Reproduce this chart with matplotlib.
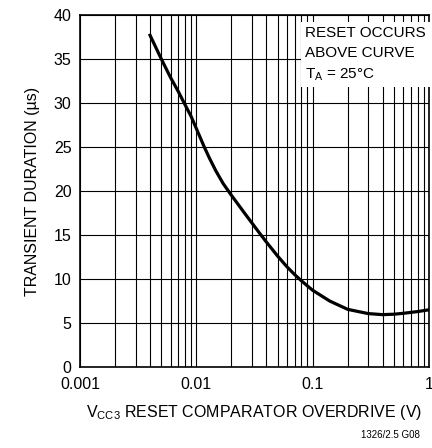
import matplotlib
matplotlib.use("Agg")
import matplotlib.pyplot as plt
from matplotlib.ticker import FixedLocator, NullFormatter

plt.rcParams['font.family'] = ['Liberation Sans', 'DejaVu Sans']
plt.rcParams['mathtext.default'] = 'regular'

# curve
overdrive = [0.004, 0.005, 0.006, 0.007, 0.008, 0.009, 0.01, 0.0117, 0.013, 0.0147,
             0.017, 0.0198, 0.0266, 0.035, 0.04, 0.05, 0.06, 0.07, 0.08, 0.09,
             0.1, 0.14, 0.2, 0.3, 0.4, 0.5, 0.6, 0.8, 1.0]
duration = [37.7, 35.0, 32.9, 31.3, 29.8, 28.5, 27.1, 25.0, 23.7, 22.3,
            20.85, 19.6, 17.3, 15.2, 14.2, 12.6, 11.4, 10.5, 9.8, 9.22,
            8.72, 7.5, 6.55, 6.07, 5.95, 6.0, 6.1, 6.3, 6.5]

x_ticks = [0.001, 0.01, 0.1, 1]
x_tick_labels = ['0.001', '0.01', '0.1', '1']
y_ticks = [0, 5, 10, 15, 20, 25, 30, 35, 40]

fig = plt.figure(figsize=(4.32, 4.48), dpi=100)
ax = fig.add_axes([80 / 432, 1 - 367 / 448, 349 / 432, 352 / 448])

ax.set_xscale('log')
ax.set_xlim(0.001, 1)
ax.set_ylim(0, 40)

minor = [m * d for d in (0.001, 0.01, 0.1) for m in range(2, 10)]
ax.xaxis.set_major_locator(FixedLocator(x_ticks))
ax.xaxis.set_minor_locator(FixedLocator(minor))
ax.xaxis.set_minor_formatter(NullFormatter())
ax.set_xticks(x_ticks)
ax.set_xticklabels(x_tick_labels)
ax.set_yticks(y_ticks)

ax.grid(True, which='both', axis='x', color='black', linewidth=0.8)
ax.grid(True, which='major', axis='y', color='black', linewidth=0.8)
ax.tick_params(which='both', length=0, labelsize=11.5, colors='black')
ax.tick_params(axis='x', pad=7)
ax.tick_params(axis='y', pad=6)
for sp in ax.spines.values():
    sp.set_linewidth(1.2)

ax.plot(overdrive, duration, color='black', linewidth=2.3, zorder=3,
        solid_joinstyle='round')

ax.text(0.645, 0.97,
        'RESET OCCURS\nABOVE CURVE\nT$_A$ = 25°C',
        transform=ax.transAxes,
        fontsize=11, va='top', ha='left', linespacing=1.55, zorder=4,
        bbox=dict(boxstyle='square,pad=0.3', facecolor='white', edgecolor='none'))

ax.set_xlabel('V$_{CC3}$ RESET COMPARATOR OVERDRIVE (V)', fontsize=11.5, labelpad=8)
ax.set_ylabel('TRANSIENT DURATION (µs)', fontsize=11.5, labelpad=10)

fig.text(0.972, 0.018, '1326/2.5 G08', fontsize=7, ha='right', va='bottom')

fig.savefig('out.png', dpi=100)
